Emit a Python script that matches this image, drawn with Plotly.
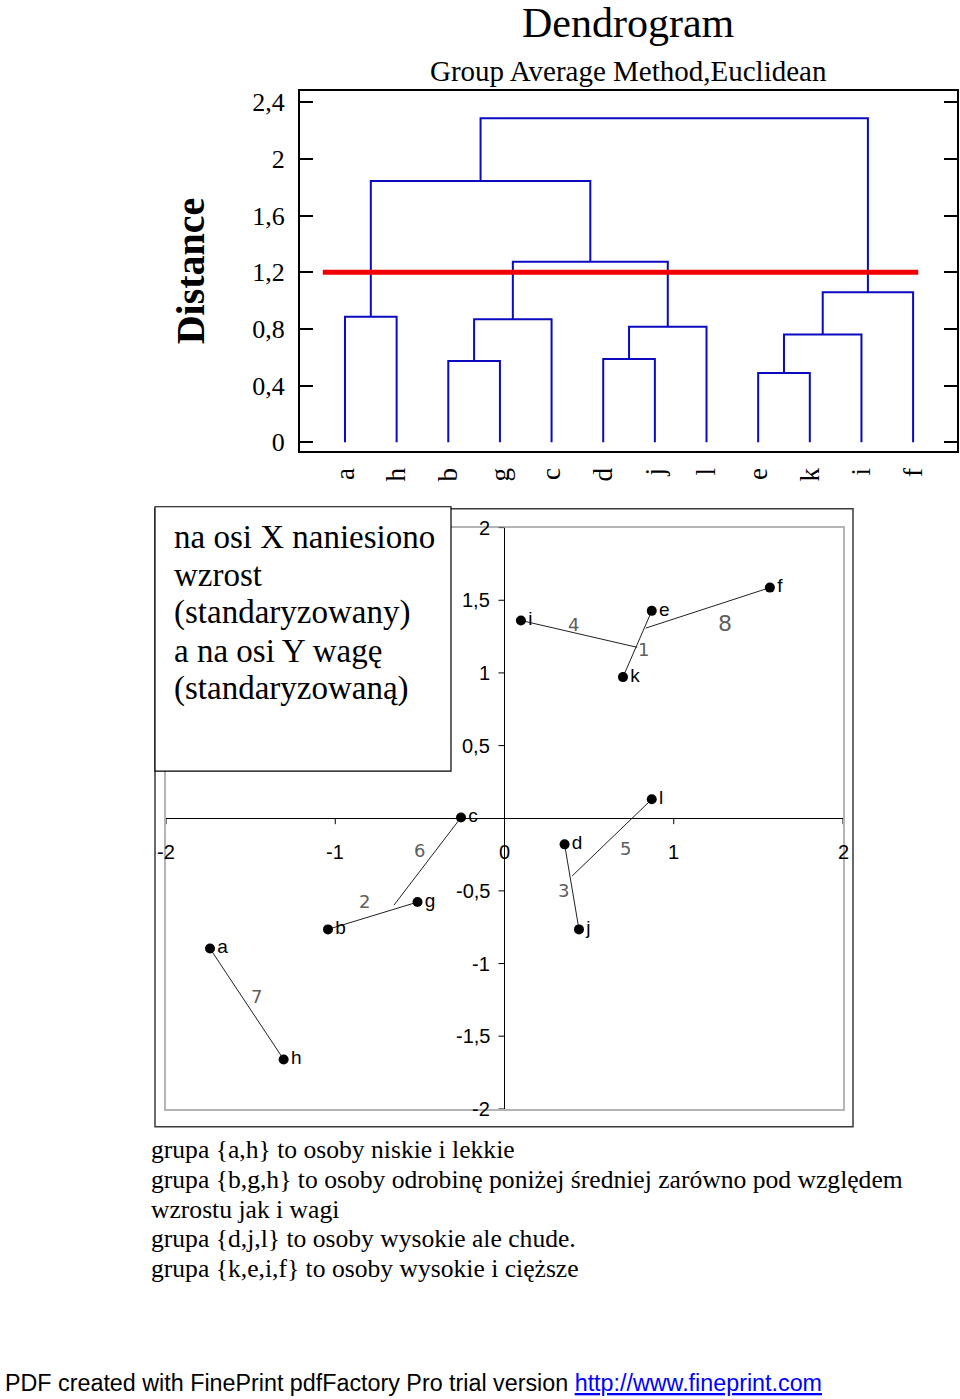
import plotly.graph_objects as go

W, H = 960, 1399
SERIF = "Liberation Serif"
SANS = "Liberation Sans"

# ---------------- Dendrogram data ----------------
leaves = ["a", "h", "b", "g", "c", "d", "j", "l", "e", "k", "i", "f"]
merge_left = ["a", "b", "bg", "d", "dj", "bgc", "ah", "e", "ek", "eki", "ahbgcdjl"]
merge_right = ["h", "g", "c", "j", "l", "djl", "bgcdjl", "k", "i", "f", "ekif"]
merge_height = [0.885, 0.573, 0.869, 0.587, 0.816, 1.274, 1.845, 0.488, 0.761, 1.059, 2.287]
cut_height = 1.2
dist_ticks = [0, 0.4, 0.8, 1.2, 1.6, 2.0, 2.4]
dist_ticktext = ["0", "0,4", "0,8", "1,2", "1,6", "2", "2,4"]

# ---------------- Scatter data (standardized height / weight) ----------------
pt_names = ["a", "b", "c", "d", "e", "f", "g", "h", "i", "j", "k", "l"]
pt_x = [-1.74, -1.043, -0.257, 0.355, 0.87, 1.568, -0.514, -1.305, 0.097, 0.44, 0.70, 0.87]
pt_y = [-0.897, -0.765, 0.005, -0.18, 1.427, 1.587, -0.577, -1.66, 1.361, -0.765, 0.971, 0.13]

link_labels = ["1", "2", "3", "4", "5", "6", "7", "8"]
link_from = ["k", "b", "d", "i", "l", "c", "a", "f"]
link_to_x = [0.87, -0.514, 0.44, 0.784, 0.40, -0.653, -1.305, 0.834]
link_to_y = [1.427, -0.577, -0.765, 1.176, -0.397, -0.598, -1.66, 1.308]
link_label_x = [0.821, -0.827, 0.347, 0.406, 0.712, -0.501, -1.467, 1.30]
link_label_y = [1.16, -0.575, -0.495, 1.33, -0.21, -0.222, -1.226, 1.337]

sc_xticks = [-2, -1, 0, 1, 2]
sc_xticktext = ["-2", "-1", "0", "1", "2"]
sc_yticks = [-2, -1.5, -1, -0.5, 0.5, 1, 1.5, 2]
sc_yticktext = ["-2", "-1,5", "-1", "-0,5", "0,5", "1", "1,5", "2"]

box_lines = ["na osi X naniesiono", "wzrost", "(standaryzowany)",
             "a na osi Y wagę", "(standaryzowaną)"]
note_lines = [
    "grupa {a,h} to osoby niskie i lekkie",
    "grupa {b,g,h} to osoby odrobinę poniżej średniej zarówno pod względem",
    "wzrostu jak i wagi",
    "grupa {d,j,l} to osoby wysokie ale chude.",
    "grupa {k,e,i,f} to osoby wysokie i cięższe",
]


def px(x):
    return x / W


def py(y):
    return 1 - y / H


fig = go.Figure()

# ---- dendrogram links
pos = {name: i for i, name in enumerate(leaves)}
hgt = {name: 0.0 for name in leaves}
dx, dy = [], []
for l, r, h in zip(merge_left, merge_right, merge_height):
    xl, xr = pos[l], pos[r]
    dx += [xl, xl, xr, xr, None]
    dy += [hgt[l], h, h, hgt[r], None]
    pos[l + r] = (xl + xr) / 2
    hgt[l + r] = h

fig.add_trace(go.Scatter(x=dx, y=dy, mode="lines", line=dict(color="#0a0ac0", width=2),
                         xaxis="x", yaxis="y", hoverinfo="skip", showlegend=False))
fig.add_trace(go.Scatter(x=[-0.43, len(leaves) - 0.9], y=[cut_height, cut_height], mode="lines",
                         line=dict(color="#f20000", width=5),
                         xaxis="x", yaxis="y", hoverinfo="skip", showlegend=False))

# ---- scatter links
idx = {n: i for i, n in enumerate(pt_names)}
lx, ly = [], []
for f, tx, ty in zip(link_from, link_to_x, link_to_y):
    lx += [pt_x[idx[f]], tx, None]
    ly += [pt_y[idx[f]], ty, None]
fig.add_trace(go.Scatter(x=lx, y=ly, mode="lines", line=dict(color="#202020", width=1),
                         xaxis="x2", yaxis="y2", hoverinfo="skip", showlegend=False))

fig.add_trace(go.Scatter(x=pt_x, y=pt_y, text=pt_names, mode="markers+text",
                         textposition="middle right",
                         textfont=dict(family=SANS, size=19, color="black"),
                         marker=dict(size=10, color="black"),
                         xaxis="x2", yaxis="y2", showlegend=False))

shapes = []
for t in sc_xticks:
    if t != 0:
        shapes.append(dict(type="line", xref="x2", yref="y2", x0=t, x1=t, y0=0, y1=-6 / 146,
                           line=dict(color="black", width=1)))
for t in sc_yticks:
    shapes.append(dict(type="line", xref="x2", yref="y2", x0=0, x1=-6 / 169, y0=t, y1=t,
                       line=dict(color="black", width=1)))

shapes.append(dict(type="rect", xref="paper", yref="paper", x0=px(155), x1=px(853),
                   y0=py(1131), y1=py(509), line=dict(color="#3a3a3a", width=1.5), layer="above"))
shapes.append(dict(type="rect", xref="paper", yref="paper", x0=px(155), x1=px(451),
                   y0=py(773), y1=py(507), line=dict(color="black", width=1.2),
                   fillcolor="white", layer="above"))

ann = []


def paper_text(text, x, y, size, family=SERIF, xanchor="center", **kw):
    ann.append(dict(text=text, x=px(x), y=py(y), xref="paper", yref="paper",
                    xanchor=xanchor, yanchor="middle", showarrow=False,
                    font=dict(family=family, size=size, color="black"), **kw))


paper_text("Dendrogram", 628, 20, 42)
paper_text("Group Average Method,Euclidean", 628, 68, 29)
paper_text("<b>Distance</b>", 190, 270, 40, textangle=-90)

for t, s in zip(sc_xticks, sc_xticktext):
    ann.append(dict(text=s, x=t, y=-34 / 146, xref="x2", yref="y2", showarrow=False,
                    xanchor="center", yanchor="middle",
                    font=dict(family=SANS, size=20, color="black")))
for t, s in zip(sc_yticks, sc_yticktext):
    ann.append(dict(text=s, x=0, y=t, xref="x2", yref="y2", xanchor="right", yanchor="middle",
                    xshift=-13, showarrow=False, font=dict(family=SANS, size=20, color="black")))
for s, x, y in zip(link_labels, link_label_x, link_label_y):
    ann.append(dict(text=s, x=x, y=y, xref="x2", yref="y2", showarrow=False,
                    xanchor="center", yanchor="middle",
                    font=dict(family="DejaVu Sans", size=22 if s == "8" else 18, color="#5e5e5e")))

for i, s in enumerate(box_lines):
    paper_text(s, 172, 537 + 38.3 * i, 33, xanchor="left")
for i, s in enumerate(note_lines):
    paper_text(s, 149, 1154 + 30 * i, 25.6, xanchor="left")

paper_text("PDF created with FinePrint pdfFactory Pro trial version "
           "<span style='color:#0000ff'><u>http://www.fineprint.com</u></span>",
           3, 1389, 23.3, family=SANS, xanchor="left")

n = len(leaves)
fig.update_layout(
    width=W, height=H, margin=dict(l=0, r=0, t=0, b=0),
    paper_bgcolor="white", plot_bgcolor="white", showlegend=False,
    xaxis=dict(domain=[px(300), px(957)], range=[-0.871, n - 1 + 0.85], anchor="y",
               showline=True, linecolor="black", linewidth=2, mirror=True,
               ticks="", tickvals=list(range(n)), ticktext=leaves, tickangle=-90,
               ticklabelstandoff=4,
               tickfont=dict(family=SERIF, size=27, color="black"),
               showgrid=False, zeroline=False),
    yaxis=dict(domain=[py(451), py(89)], range=[-0.063, 2.477], anchor="x",
               showline=True, linecolor="black", linewidth=2, mirror="ticks",
               ticks="inside", ticklen=13, tickwidth=2, tickcolor="black",
               tickvals=dist_ticks, ticktext=dist_ticktext, ticklabelstandoff=8,
               tickfont=dict(family=SERIF, size=26, color="black"),
               showgrid=False, zeroline=False),
    xaxis2=dict(domain=[px(166), px(843)], range=[-2, 2], anchor="y2",
                showline=True, linecolor="#b4b4b4", linewidth=2, mirror=True,
                showticklabels=False, ticks="", showgrid=False,
                zeroline=True, zerolinecolor="black", zerolinewidth=1),
    yaxis2=dict(domain=[py(1113), py(528)], range=[-2, 2], anchor="x2",
                showline=True, linecolor="#b4b4b4", linewidth=2, mirror=True,
                showticklabels=False, ticks="", showgrid=False,
                zeroline=True, zerolinecolor="black", zerolinewidth=1),
    shapes=shapes, annotations=ann,
)

fig.write_html("out.html", config={"displayModeBar": False},
               post_script="document.body.style.margin='0';"
                           "document.body.style.overflow='hidden';")
